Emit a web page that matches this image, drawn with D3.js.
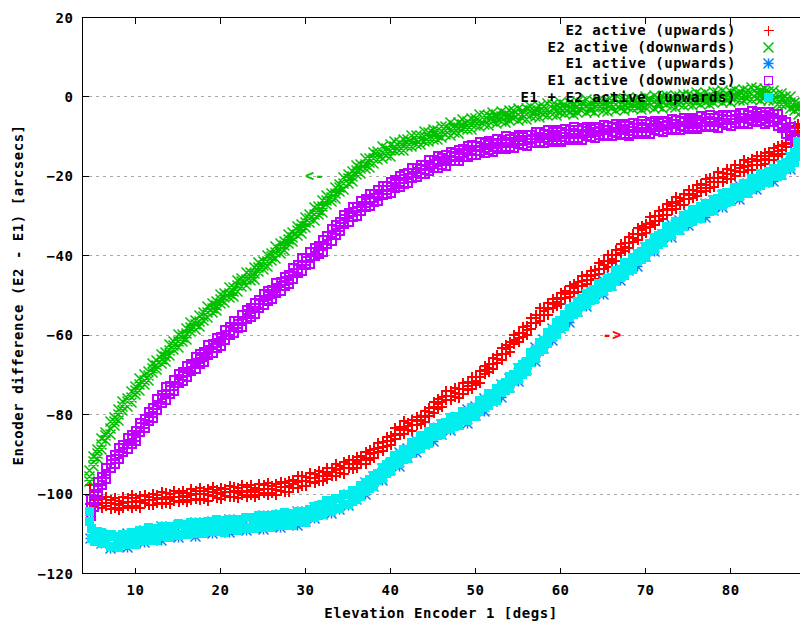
<!DOCTYPE html>
<html>
<head>
<meta charset="utf-8">
<script src="https://cdn.jsdelivr.net/npm/d3@7"></script>
<style>
html, body { margin: 0; padding: 0; background: #fff; }
svg { display: block; }
text { font-family: "DejaVu Sans Mono", "Liberation Mono", monospace; font-weight: bold; font-size: 14px; letter-spacing: 0.55px; fill: #000; }
</style>
</head>
<body>
<svg id="chart" width="800" height="621"></svg>
<script>
// Axis ticks and titles
const xTicks = [10, 20, 30, 40, 50, 60, 70, 80];
const yTicks = [20, 0, -20, -40, -60, -80, -100, -120];
const yGrid = [0, -20, -40, -60, -80, -100];
const xTitle = "Elevation Encoder 1 [degs]";
const yTitle = "Encoder difference (E2 - E1) [arcsecs]";

// Each row: [elevation deg, then the difference samples read at that elevation] in arcsecs
const e2Up = [[4.6,-97.6,-100.0,-102.4],[5,-99.3,-101.4,-103.1],[5.5,-100.3,-101.4,-102.7],[6,-101.1,-102.1,-103.5],[6.5,-100.6,-102.0,-103.0],[7,-101.3,-102.2,-103.6],[7.5,-100.9,-102.3,-103.3],[8,-101.5,-102.5,-103.8],[8.5,-100.6,-102.1,-103.3],[9,-100.9,-101.8,-102.9],[9.5,-100.2,-101.9,-103.3],[10,-100.9,-101.6,-102.8],[10.5,-100.4,-101.9,-103.3],[11,-100.0,-101.3,-102.2],[11.5,-100.5,-101.4,-102.6],[12,-99.9,-101.4,-102.7],[12.5,-100.1,-100.9,-102.0],[13,-99.4,-101.0,-102.3],[13.5,-99.6,-100.7,-102.0],[14,-99.9,-101.0,-102.3],[14.5,-99.1,-100.5,-101.5],[15,-99.5,-100.5,-101.8],[15.5,-99.0,-100.3,-101.4],[16,-99.6,-100.6,-101.9],[16.5,-98.7,-100.2,-101.4],[17,-99.0,-99.9,-101.0],[17.5,-98.3,-99.9,-101.4],[18,-99.1,-99.9,-101.0],[18.5,-98.6,-100.1,-101.5],[19,-98.2,-99.4,-100.4],[19.5,-98.8,-99.7,-100.9],[20,-98.3,-99.8,-101.1],[20.5,-98.5,-99.3,-100.4],[21,-97.8,-99.4,-100.7],[21.5,-98.1,-99.2,-100.5],[22,-98.4,-99.5,-100.8],[22.5,-97.7,-99.0,-100.1],[23,-98.2,-99.3,-100.5],[23.5,-97.7,-98.8,-100.1],[24,-98.3,-99.3,-100.6],[24.5,-97.4,-98.9,-100.1],[25,-97.7,-98.6,-99.7],[25.5,-97.0,-98.7,-100.1],[26,-97.8,-98.6,-99.7],[26.5,-97.3,-98.8,-100.2],[27,-96.9,-98.1,-99.1],[27.5,-97.2,-98.1,-99.3],[28,-96.5,-97.9,-99.3],[28.5,-96.4,-97.3,-98.3],[29,-95.4,-96.9,-98.3],[29.5,-95.4,-96.5,-97.8],[30,-95.5,-96.6,-97.9],[30.5,-94.5,-95.8,-96.9],[31,-94.8,-95.9,-97.1],[31.5,-94.1,-95.2,-96.5],[32,-94.4,-95.4,-96.7],[32.5,-93.3,-94.7,-96.0],[33,-93.3,-94.2,-95.3],[33.5,-92.3,-93.9,-95.4],[34,-92.7,-93.6,-94.6],[34.5,-91.9,-93.2,-94.8],[35,-91.2,-92.4,-93.4],[35.5,-91.4,-92.3,-93.5],[36,-90.5,-91.9,-93.3],[36.5,-90.4,-91.2,-92.3],[37,-89.4,-90.9,-92.3],[37.5,-88.8,-89.9,-91.2],[38,-88.4,-89.5,-90.8],[38.5,-86.9,-88.2,-89.3],[39,-86.8,-88.0,-89.1],[39.5,-85.4,-86.5,-87.8],[40,-85.2,-86.4,-87.5],[40.5,-83.3,-84.7,-86.0],[41,-82.9,-83.8,-84.9],[41.5,-81.6,-83.2,-84.7],[42,-81.9,-82.8,-83.8],[42.5,-81.1,-82.6,-84.0],[43,-80.4,-81.4,-82.6],[43.5,-80.1,-81.1,-82.2],[44,-78.9,-80.4,-81.7],[44.5,-78.2,-79.1,-80.1],[45,-76.6,-78.0,-79.5],[45.5,-76.0,-77.2,-78.4],[46,-75.5,-76.6,-77.9],[46.5,-73.9,-75.2,-76.3],[47,-74.0,-75.1,-76.3],[47.5,-73.1,-74.3,-75.5],[48,-73.5,-74.7,-75.8],[48.5,-72.0,-73.3,-74.7],[49,-71.7,-72.6,-73.7],[49.5,-70.3,-71.9,-73.4],[50,-70.4,-71.3,-72.3],[50.5,-68.9,-70.4,-71.8],[51,-67.5,-68.7,-69.7],[51.5,-67.1,-68.1,-69.2],[52,-65.7,-67.2,-68.5],[52.5,-64.9,-65.8,-66.8],[53,-63.2,-64.7,-66.1],[53.5,-62.3,-63.4,-64.7],[54,-61.6,-62.8,-64.0],[54.5,-59.8,-61.1,-62.2],[55,-59.4,-60.5,-61.7],[55.5,-57.9,-59.2,-60.3],[56,-57.5,-58.6,-59.8],[56.5,-55.5,-56.9,-58.2],[57,-54.7,-55.6,-56.7],[57.5,-53.1,-54.7,-56.2],[58,-53.0,-53.9,-54.9],[58.5,-51.8,-53.3,-54.7],[59,-50.7,-51.9,-52.9],[59.5,-50.4,-51.4,-52.5],[60,-49.2,-50.7,-52.0],[60.5,-48.7,-49.6,-50.6],[61,-47.4,-48.9,-50.3],[61.5,-46.9,-48.0,-49.3],[62,-46.5,-47.6,-48.9],[62.5,-45.0,-46.3,-47.4],[63,-44.8,-46.0,-47.1],[63.5,-43.6,-44.9,-46.0],[64,-43.5,-44.6,-45.8],[64.5,-41.8,-43.2,-44.5],[65,-41.3,-42.2,-43.3],[65.5,-39.7,-41.3,-42.8],[66,-39.7,-40.6,-41.6],[66.5,-38.3,-39.8,-41.2],[67,-37.0,-38.2,-39.2],[67.5,-36.6,-37.6,-38.7],[68,-35.2,-36.7,-38.0],[68.5,-34.5,-35.4,-36.4],[69,-32.9,-34.4,-35.8],[69.5,-32.3,-33.4,-34.7],[70,-31.8,-32.9,-34.2],[70.5,-30.2,-31.5,-32.6],[71,-29.9,-31.1,-32.2],[71.5,-28.6,-29.8,-31.0],[72,-28.4,-29.6,-30.7],[72.5,-26.8,-28.2,-29.5],[73,-26.4,-27.3,-28.4],[73.5,-25.0,-26.6,-28.1],[74,-25.2,-26.1,-27.1],[74.5,-24.2,-25.7,-27.1],[75,-23.3,-24.5,-25.5],[75.5,-23.2,-24.2,-25.3],[76,-22.1,-23.5,-24.9],[76.5,-21.8,-22.7,-23.7],[77,-20.6,-22.1,-23.5],[77.5,-20.3,-21.4,-22.7],[78,-20.2,-21.4,-22.6],[78.5,-18.9,-20.2,-21.3],[79,-19.0,-20.1,-21.3],[79.5,-18.1,-19.4,-20.5],[80,-18.3,-19.4,-20.6],[80.5,-17.0,-18.4,-19.7],[81,-16.9,-17.8,-18.9],[81.5,-15.8,-17.4,-18.9],[82,-16.3,-17.2,-18.2],[82.5,-15.4,-16.9,-18.3],[83,-14.7,-15.9,-16.9],[83.5,-14.8,-15.8,-16.9],[84,-14.0,-15.4,-16.8],[84.5,-13.8,-14.7,-15.7],[85,-12.8,-14.3,-15.7],[85.5,-12.3,-13.5,-14.7],[86,-11.9,-13.2,-14.3],[86.5,-10.1,-11.4,-12.5],[87,-9.5,-10.7,-11.8],[87.5,-7.1,-8.4,-9.5],[87.9,-6.8,-7.6,-8.6]];

const e2Down = [[4.6,-94.0,-95.5,-96.8],[5,-90.6,-91.9,-93.0],[5.5,-88.8,-89.8,-91.1],[6,-86.0,-87.5,-88.7],[6.5,-84.4,-85.3,-86.4],[7,-81.8,-83.4,-84.9],[7.5,-80.8,-81.8,-82.7],[8,-78.6,-80.0,-81.5],[8.5,-76.8,-78.0,-79.0],[9,-75.9,-76.8,-78.0],[9.5,-74.1,-75.6,-76.9],[10,-73.0,-73.9,-74.9],[10.5,-71.0,-72.5,-73.9],[11,-70.0,-71.3,-72.4],[11.5,-69.1,-70.2,-71.5],[12,-67.1,-68.4,-69.5],[12.5,-66.4,-67.6,-68.7],[13,-64.8,-66.1,-67.2],[13.5,-64.3,-65.3,-66.6],[14,-62.3,-63.8,-65.0],[14.5,-61.6,-62.5,-63.6],[15,-59.9,-61.6,-63.0],[15.5,-59.7,-60.6,-61.6],[16,-58.2,-59.5,-61.1],[16.5,-56.8,-58.0,-59.0],[17,-56.4,-57.3,-58.5],[17.5,-55.0,-56.5,-57.8],[18,-54.3,-55.2,-56.2],[18.5,-52.7,-54.2,-55.6],[19,-52.0,-53.3,-54.4],[19.5,-51.4,-52.5,-53.8],[20,-49.7,-51.0,-52.1],[20.5,-49.4,-50.5,-51.7],[21,-48.1,-49.4,-50.5],[21.5,-47.9,-48.9,-50.2],[22,-46.2,-47.6,-48.9],[22.5,-45.7,-46.6,-47.7],[23,-44.3,-45.9,-47.4],[23.5,-44.3,-45.2,-46.2],[24,-43.0,-44.5,-45.9],[24.5,-41.7,-42.9,-43.9],[25,-41.4,-42.4,-43.5],[25.5,-40.0,-41.5,-42.8],[26,-39.3,-40.1,-41.2],[26.5,-37.7,-39.2,-40.6],[27,-37.0,-38.3,-39.4],[27.5,-36.3,-37.4,-38.7],[28,-34.6,-35.9,-37.0],[28.5,-34.1,-35.3,-36.4],[29,-32.6,-33.7,-35.0],[29.5,-32.2,-33.2,-34.5],[30,-30.3,-31.7,-33.0],[30.5,-29.6,-30.5,-31.6],[31,-27.9,-29.5,-31.0],[31.5,-27.7,-28.6,-29.6],[32,-26.2,-27.7,-29.1],[32.5,-24.8,-26.0,-27.0],[33,-24.3,-25.3,-26.4],[33.5,-22.8,-24.3,-25.6],[34,-22.0,-22.9,-23.9],[34.5,-20.3,-21.8,-23.2],[35,-19.5,-20.6,-21.9],[35.5,-18.9,-20.0,-21.3],[36,-17.2,-18.5,-19.6],[36.5,-16.9,-18.0,-19.2],[37,-15.6,-16.9,-18.0],[37.5,-15.5,-16.5,-17.8],[38,-14.0,-15.4,-16.7],[38.5,-13.7,-14.6,-15.7],[39,-12.5,-14.1,-15.6],[39.5,-12.9,-13.8,-14.8],[40,-12.0,-13.4,-14.9],[40.5,-11.3,-12.5,-13.5],[41,-11.5,-12.5,-13.6],[41.5,-10.7,-12.2,-13.5],[42,-10.7,-11.6,-12.6],[42.5,-9.7,-11.2,-12.6],[43,-9.7,-10.8,-12.1],[43.5,-9.7,-10.8,-12.1],[44,-8.7,-9.9,-11.1],[44.5,-8.9,-10.1,-11.2],[45,-8.2,-9.3,-10.6],[45.5,-8.5,-9.6,-10.8],[46,-7.4,-8.8,-10.1],[46.5,-7.4,-8.4,-9.4],[47,-6.5,-8.1,-9.6],[47.5,-7.1,-8.0,-9.0],[48,-6.4,-7.8,-9.3],[48.5,-5.8,-6.9,-8.0],[49,-6.1,-7.1,-8.2],[49.5,-5.4,-6.9,-8.2],[50,-5.4,-6.3,-7.3],[50.5,-4.5,-6.0,-7.4],[51,-4.6,-5.8,-7.0],[51.5,-4.8,-5.9,-7.2],[52,-3.9,-5.1,-6.3],[52.5,-4.3,-5.5,-6.6],[53,-3.7,-4.9,-6.1],[53.5,-4.2,-5.3,-6.5],[54,-3.3,-4.7,-6.0],[54.5,-3.5,-4.4,-5.5],[55,-2.8,-4.4,-5.9],[55.5,-3.5,-4.4,-5.4],[56,-2.9,-4.3,-5.8],[56.5,-2.4,-3.5,-4.6],[57,-2.9,-3.9,-5.0],[57.5,-2.3,-3.7,-5.1],[58,-2.5,-3.4,-4.4],[58.5,-1.7,-3.1,-4.6],[59,-1.9,-3.0,-4.3],[59.5,-2.2,-3.4,-4.6],[60,-1.4,-2.6,-3.8],[60.5,-1.9,-3.0,-4.2],[61,-1.4,-2.6,-3.8],[61.5,-2.0,-3.2,-4.3],[62,-1.1,-2.5,-3.8],[62.5,-1.4,-2.4,-3.4],[63,-0.7,-2.2,-3.8],[63.5,-1.6,-2.5,-3.5],[64,-1.1,-2.6,-4.0],[64.5,-0.8,-1.9,-3.0],[65,-1.3,-2.3,-3.4],[65.5,-0.8,-2.2,-3.6],[66,-1.0,-1.9,-2.9],[66.5,-0.4,-1.8,-3.3],[67,-0.6,-1.8,-3.0],[67.5,-1.0,-2.2,-3.4],[68,-0.2,-1.4,-2.6],[68.5,-0.7,-1.9,-3.0],[69,-0.2,-1.4,-2.6],[69.5,-0.9,-2.1,-3.2],[70,0.0,-1.3,-2.7],[70.5,-0.4,-1.4,-2.4],[71,0.3,-1.2,-2.8],[71.5,-0.5,-1.5,-2.4],[72,0.0,-1.4,-2.9],[72.5,0.4,-0.7,-1.9],[73,-0.2,-1.2,-2.3],[73.5,0.3,-1.1,-2.6],[74,0.0,-0.9,-1.9],[74.5,0.7,-0.7,-2.2],[75,0.5,-0.6,-1.9],[75.5,0.2,-1.0,-2.2],[76,1.0,-0.2,-1.4],[76.5,0.5,-0.6,-1.8],[77,1.0,-0.2,-1.4],[77.5,0.4,-0.7,-1.9],[78,1.3,-0.1,-1.4],[78.5,1.0,0.0,-1.0],[79,1.7,0.2,-1.4],[79.5,0.9,-0.1,-1.0],[80,1.4,-0.1,-1.5],[80.5,1.8,0.7,-0.4],[81,1.3,0.3,-0.8],[81.5,1.8,0.4,-1.0],[82,1.6,0.6,-0.3],[82.5,2.3,0.8,-0.7],[83,2.0,0.8,-0.4],[83.5,1.6,0.4,-0.9],[84,2.2,1.0,-0.2],[84.5,1.4,0.3,-0.9],[85,1.6,0.4,-0.8],[85.5,0.5,-0.7,-1.8],[86,0.9,-0.4,-1.8],[86.5,0.0,-1.0,-2.0],[87,0.1,-1.4,-3.0],[87.5,-1.4,-2.3,-3.3],[88,-1.6,-3.0,-4.5]];

const e1Up = [[4.7,-105.0,-111.2],[6,-110.1,-112.4],[7,-110.5,-113.6],[8,-111.4,-113.1],[9,-110.0,-113.5],[10,-110.1,-112.4],[11,-109.2,-112.3],[12,-109.4,-111.1],[13,-108.2,-111.7],[14,-108.5,-110.8],[15,-107.8,-110.9],[16,-108.2,-109.9],[17,-107.1,-110.6],[18,-107.5,-109.8],[19,-106.9,-110.0],[20,-107.4,-109.1],[21,-106.3,-109.8],[22,-106.7,-109.0],[23,-106.1,-109.2],[24,-106.6,-108.3],[25,-105.5,-109.0],[26,-105.9,-108.2],[27,-105.2,-108.3],[28,-105.6,-107.3],[29,-104.5,-108.0],[30,-104.7,-107.0],[31,-103.4,-106.2],[32,-102.9,-105.2],[33,-101.8,-104.9],[34,-101.3,-103.8],[35,-100.1,-103.0],[36,-99.4,-101.4],[37,-97.0,-100.0],[38,-95.7,-98.0],[39,-93.5,-96.6],[40,-92.2,-93.9],[41,-89.6,-93.1],[42,-88.5,-90.8],[43,-86.5,-89.6],[44,-85.7,-87.4],[45,-83.3,-86.8],[46,-82.6,-84.9],[47,-81.0,-84.1],[48,-80.7,-82.4],[49,-78.8,-82.3],[50,-77.9,-80.2],[51,-76.0,-79.1],[52,-75.0,-76.7],[53,-72.3,-75.8],[54,-70.9,-73.2],[55,-68.5,-71.6],[56,-67.0,-68.7],[57,-63.0,-66.5],[58,-61.1,-63.4],[59,-58.3,-61.4],[60,-56.6,-58.3],[61,-53.3,-56.8],[62,-51.8,-54.1],[63,-49.7,-52.8],[64,-48.8,-50.5],[65,-46.3,-49.8],[66,-45.3,-47.6],[67,-43.2,-46.3],[68,-42.0,-43.7],[69,-39.3,-42.8],[70,-38.0,-40.3],[71,-35.7,-38.8],[72,-34.6,-36.3],[73,-32.0,-35.5],[74,-31.1,-33.4],[75,-29.3,-32.4],[76,-28.8,-30.5],[77,-26.8,-30.3],[78,-26.2,-28.5],[79,-24.7,-27.8],[80,-24.3,-26.0],[81,-22.3,-25.8],[82,-21.8,-24.1],[83,-20.3,-23.4],[84,-19.9,-21.6],[85,-17.9,-21.4],[86,-17.3,-19.6],[87,-15.2,-18.3],[88,-12.9,-14.6]];

const e1Down = [[4.7,-101.0,-103.2,-105.5],[5,-99.8,-101.6,-103.2],[5.5,-96.8,-98.4,-99.9],[6,-95.7,-96.6,-97.6],[6.5,-93.3,-94.8,-96.2],[7,-91.2,-92.3,-93.4],[7.5,-90.1,-91.1,-92.2],[8,-88.3,-89.8,-91.1],[8.5,-87.4,-88.3,-89.3],[9,-85.7,-87.2,-88.6],[9.5,-84.9,-86.0,-87.3],[10,-84.1,-85.4,-86.5],[10.5,-81.9,-83.0,-84.3],[11,-81.0,-82.2,-83.3],[11.5,-79.1,-80.4,-81.5],[12,-78.3,-79.5,-80.6],[12.5,-76.0,-77.4,-78.7],[13,-74.9,-75.8,-76.9],[13.5,-73.0,-74.6,-76.1],[14,-72.7,-73.6,-74.6],[14.5,-71.1,-72.6,-74.0],[15,-69.7,-70.8,-71.9],[15.5,-69.2,-70.2,-71.3],[16,-67.7,-69.1,-70.5],[16.5,-67.0,-67.9,-68.9],[17,-65.4,-66.9,-68.3],[17.5,-64.7,-65.8,-67.1],[18,-64.1,-65.3,-66.5],[18.5,-62.4,-63.5,-64.8],[19,-62.0,-63.2,-64.3],[19.5,-60.6,-61.9,-63.0],[20,-60.3,-61.4,-62.6],[20.5,-58.5,-59.9,-61.2],[21,-57.9,-58.8,-59.9],[21.5,-56.3,-57.9,-59.4],[22,-56.2,-57.1,-58.1],[22.5,-54.8,-56.3,-57.7],[23,-53.5,-54.6,-55.7],[23.5,-53.1,-54.1,-55.2],[24,-51.7,-53.1,-54.5],[24.5,-51.0,-51.9,-52.9],[25,-49.4,-50.9,-52.3],[25.5,-48.8,-50.0,-51.2],[26,-48.4,-49.6,-50.8],[26.5,-46.8,-48.0,-49.2],[27,-46.5,-47.6,-48.8],[27.5,-45.1,-46.3,-47.5],[28,-44.8,-45.9,-47.1],[28.5,-42.9,-44.3,-45.6],[29,-42.2,-43.1,-44.2],[29.5,-40.5,-42.1,-43.6],[30,-40.4,-41.3,-42.3],[30.5,-39.0,-40.5,-41.9],[31,-37.8,-38.9,-40.0],[31.5,-37.4,-38.4,-39.5],[32,-36.0,-37.4,-38.8],[32.5,-35.0,-35.9,-36.9],[33,-33.2,-34.7,-36.1],[33.5,-32.2,-33.4,-34.6],[34,-31.3,-32.5,-33.7],[34.5,-29.5,-30.7,-31.9],[35,-29.0,-30.2,-31.3],[35.5,-27.7,-28.9,-30.1],[36,-27.6,-28.7,-29.9],[36.5,-26.0,-27.4,-28.7],[37,-25.7,-26.6,-27.7],[37.5,-24.3,-25.9,-27.4],[38,-24.4,-25.3,-26.3],[38.5,-23.3,-24.8,-26.2],[39,-22.3,-23.4,-24.5],[39.5,-22.2,-23.2,-24.3],[40,-21.2,-22.6,-24.0],[40.5,-20.9,-21.8,-22.8],[41,-19.7,-21.2,-22.6],[41.5,-19.3,-20.5,-21.7],[42,-19.1,-20.3,-21.5],[42.5,-17.8,-19.0,-20.2],[43,-17.8,-18.9,-20.1],[43.5,-16.9,-18.1,-19.3],[44,-17.1,-18.2,-19.4],[44.5,-15.8,-17.2,-18.5],[45,-15.8,-16.8,-17.8],[45.5,-14.7,-16.3,-17.8],[46,-15.2,-16.1,-17.1],[46.5,-14.4,-15.8,-17.3],[47,-13.7,-14.8,-15.9],[47.5,-13.9,-14.9,-16.0],[48,-13.2,-14.6,-16.0],[48.5,-13.1,-14.0,-15.0],[49,-12.2,-13.6,-15.1],[49.5,-12.1,-13.3,-14.5],[50,-12.2,-13.4,-14.6],[50.5,-11.2,-12.4,-13.6],[51,-11.6,-12.7,-13.9],[51.5,-10.9,-12.1,-13.3],[52,-11.4,-12.5,-13.7],[52.5,-10.4,-11.7,-13.1],[53,-10.6,-11.6,-12.6],[53.5,-9.8,-11.3,-12.9],[54,-10.5,-11.4,-12.4],[54.5,-9.9,-11.3,-12.8],[55,-9.5,-10.6,-11.7],[55.5,-9.9,-11.0,-12.0],[56,-9.4,-10.8,-12.2],[56.5,-9.5,-10.5,-11.4],[57,-8.7,-10.1,-11.6],[57.5,-8.8,-10.0,-11.2],[58,-9.1,-10.3,-11.5],[58.5,-8.3,-9.5,-10.7],[59,-8.8,-9.9,-11.1],[59.5,-8.2,-9.4,-10.6],[60,-8.8,-10.0,-11.1],[60.5,-7.9,-9.2,-10.6],[61,-8.2,-9.2,-10.2],[61.5,-7.5,-9.0,-10.6],[62,-8.3,-9.2,-10.2],[62.5,-7.8,-9.2,-10.7],[63,-7.4,-8.5,-9.6],[63.5,-7.9,-8.9,-10.0],[64,-7.4,-8.8,-10.2],[64.5,-7.6,-8.5,-9.5],[65,-6.9,-8.3,-9.8],[65.5,-7.1,-8.3,-9.5],[66,-7.4,-8.6,-9.8],[66.5,-6.6,-7.8,-9.0],[67,-7.2,-8.3,-9.5],[67.5,-6.7,-7.9,-9.1],[68,-7.3,-8.4,-9.6],[68.5,-6.4,-7.8,-9.1],[69,-6.7,-7.7,-8.7],[69.5,-6.0,-7.5,-9.1],[70,-6.8,-7.7,-8.7],[70.5,-6.3,-7.7,-9.2],[71,-5.9,-7.0,-8.1],[71.5,-6.4,-7.4,-8.5],[72,-5.9,-7.3,-8.7],[72.5,-6.1,-7.0,-8.0],[73,-5.4,-6.8,-8.3],[73.5,-5.6,-6.8,-8.0],[74,-5.9,-7.1,-8.3],[74.5,-5.1,-6.3,-7.5],[75,-5.6,-6.7,-7.9],[75.5,-5.1,-6.3,-7.5],[76,-5.7,-6.8,-8.0],[76.5,-4.8,-6.1,-7.5],[77,-5.1,-6.1,-7.1],[77.5,-4.4,-5.9,-7.5],[78,-5.2,-6.1,-7.1],[78.5,-4.7,-6.1,-7.6],[79,-4.3,-5.4,-6.5],[79.5,-4.8,-5.8,-6.9],[80,-4.3,-5.7,-7.1],[80.5,-4.5,-5.4,-6.4],[81,-3.8,-5.2,-6.7],[81.5,-4.0,-5.2,-6.4],[82,-4.3,-5.5,-6.7],[82.5,-3.5,-4.7,-5.9],[83,-4.0,-5.1,-6.3],[83.5,-3.6,-4.8,-6.0],[84,-4.3,-5.4,-6.6],[84.5,-3.6,-5.0,-6.3],[85,-4.2,-5.2,-6.2],[85.5,-4.1,-5.6,-7.2],[86,-5.7,-6.6,-7.6],[86.5,-6.3,-7.7,-9.2],[87,-7.5,-8.6,-9.7],[87.5,-10.1,-11.1,-12.2],[88,-11.2,-12.6,-14.0]];

const e12Up = [[4.6,-104.4,-107.0],[4.8,-108.6,-111.2],[5.2,-109.5,-112.0],[5.5,-109.4,-111.5],[6,-109.7,-112.5],[6.5,-110.5,-112.4],[7,-110.2,-113.1],[7.5,-110.7,-113.1],[8,-111.1,-113.5],[8.5,-110.2,-112.6],[9,-110.5,-112.8],[9.5,-109.8,-112.2],[10,-110.3,-112.6],[10.5,-109.2,-111.9],[11,-109.4,-111.4],[11.5,-108.5,-111.6],[12,-109.2,-111.1],[12.5,-108.7,-111.6],[13,-108.2,-110.4],[13.5,-108.7,-110.8],[14,-108.1,-110.9],[14.5,-108.3,-110.2],[15,-107.5,-110.4],[15.5,-107.7,-110.1],[16,-107.9,-110.3],[16.5,-107.1,-109.5],[17,-107.6,-109.9],[17.5,-107.1,-109.5],[18,-107.7,-110.0],[18.5,-106.8,-109.5],[19,-107.1,-109.1],[19.5,-106.4,-109.5],[20,-107.2,-109.1],[20.5,-106.7,-109.6],[21,-106.3,-108.5],[21.5,-106.8,-108.9],[22,-106.3,-109.1],[22.5,-106.5,-108.4],[23,-105.8,-108.7],[23.5,-106.0,-108.4],[24,-106.3,-108.7],[24.5,-105.5,-107.9],[25,-106.0,-108.3],[25.5,-105.5,-107.9],[26,-106.1,-108.4],[26.5,-105.2,-107.9],[27,-105.4,-107.4],[27.5,-104.7,-107.8],[28,-105.4,-107.3],[28.5,-104.9,-107.8],[29,-104.5,-106.7],[29.5,-104.9,-107.0],[30,-104.3,-107.1],[30.5,-103.9,-106.0],[31,-103.2,-105.9],[31.5,-102.9,-105.4],[32,-102.7,-105.1],[32.5,-101.7,-104.1],[33,-102.0,-104.3],[33.5,-101.1,-103.6],[34,-101.2,-103.6],[34.5,-100.1,-102.7],[35,-100.2,-102.5],[35.5,-99.1,-101.8],[36,-99.0,-101.3],[36.5,-97.8,-100.5],[37,-97.2,-99.4],[37.5,-96.4,-98.5],[38,-95.3,-98.1],[38.5,-94.7,-96.6],[39,-93.2,-96.1],[39.5,-92.5,-94.9],[40,-91.9,-94.3],[40.5,-90.3,-92.7],[41,-90.1,-92.4],[41.5,-88.8,-91.2],[42,-88.7,-91.0],[42.5,-87.1,-89.8],[43,-86.7,-88.7],[43.5,-85.3,-88.4],[44,-85.5,-87.4],[44.5,-84.3,-87.2],[45,-83.3,-85.5],[45.5,-83.2,-85.3],[46,-82.2,-85.0],[46.5,-81.9,-83.8],[47,-80.7,-83.6],[47.5,-80.5,-82.9],[48,-80.4,-82.8],[48.5,-79.2,-81.6],[49,-79.3,-81.6],[49.5,-78.1,-80.5],[50,-78.1,-80.4],[50.5,-76.5,-79.2],[51,-76.2,-78.2],[51.5,-74.7,-77.8],[52,-74.8,-76.7],[52.5,-73.5,-76.4],[53,-72.3,-74.5],[53.5,-71.9,-74.0],[54,-70.5,-73.3],[54.5,-69.8,-71.7],[55,-68.2,-71.1],[55.5,-67.4,-69.8],[56,-66.7,-69.1],[56.5,-64.4,-66.8],[57,-63.5,-65.8],[57.5,-61.8,-64.2],[58,-61.3,-63.6],[58.5,-59.3,-62.0],[59,-58.5,-60.5],[59.5,-56.7,-59.8],[60,-56.4,-58.3],[60.5,-54.8,-57.7],[61,-53.3,-55.5],[61.5,-52.8,-54.9],[62,-51.4,-54.2],[62.5,-50.8,-52.7],[63,-49.4,-52.3],[63.5,-48.9,-51.3],[64,-48.5,-50.9],[64.5,-47.0,-49.4],[65,-46.8,-49.1],[65.5,-45.6,-48.0],[66,-45.5,-47.8],[66.5,-43.8,-46.5],[67,-43.4,-45.4],[67.5,-41.8,-44.9],[68,-41.8,-43.7],[68.5,-40.5,-43.4],[69,-39.3,-41.5],[69.5,-38.9,-41.0],[70,-37.6,-40.4],[70.5,-36.9,-38.8],[71,-35.4,-38.3],[71.5,-34.8,-37.2],[72,-34.3,-36.7],[72.5,-32.7,-35.1],[73,-32.5,-34.8],[73.5,-31.3,-33.7],[74,-31.3,-33.6],[74.5,-29.8,-32.5],[75,-29.5,-31.5],[75.5,-28.3,-31.4],[76,-28.6,-30.5],[76.5,-27.6,-30.5],[77,-26.8,-29.0],[77.5,-26.8,-28.9],[78,-25.8,-28.6],[78.5,-25.5,-27.4],[79,-24.4,-27.3],[79.5,-24.1,-26.5],[80,-24.0,-26.4],[80.5,-22.7,-25.1],[81,-22.8,-25.1],[81.5,-21.8,-24.2],[82,-22.0,-24.3],[82.5,-20.6,-23.3],[83,-20.5,-22.5],[83.5,-19.3,-22.4],[84,-19.7,-21.6],[84.5,-18.7,-21.6],[85,-17.9,-20.1],[85.5,-17.9,-20.0],[86,-16.9,-19.7],[86.5,-16.4,-18.3],[87,-14.9,-17.8],[87.5,-14.0,-16.4],[87.9,-11.2,-13.5],[88,-12.6,-15.0]];

// Series in drawing order, with their key labels
const seriesLabels = ["E2 active (upwards)", "E2 active (downwards)", "E1 active (upwards)", "E1 active (downwards)", "E1 + E2 active (upwards)"];
const seriesData = [e2Up, e2Down, e1Up, e1Down, e12Up];

// Direction annotations: [text, elevation, difference]
const arrowNotes = [["<-", 30, -20], ["->", 65, -60]];

// ---- styles ----
const seriesStyle = [
  { color: "#ff0000", marker: "plus",    width: 2,   size: 5 },
  { color: "#00c000", marker: "cross",   width: 1.6, size: 5 },
  { color: "#0080ff", marker: "star",    width: 1.5, size: 5 },
  { color: "#c000ff", marker: "box",     width: 2,   size: 4 },
  { color: "#00eeee", marker: "boxfill", width: 1,   size: 4 }
];
const noteColors = ["#00c000", "#ff0000"];

const svg = d3.select("#chart");
const plot = { left: 82, right: 800, top: 17, bottom: 573 };

const x = d3.scaleLinear().domain([3.76, 88.1]).range([plot.left, 799]);
const y = d3.scaleLinear().domain([-120, 20]).range([plot.bottom, plot.top]);

svg.append("rect").attr("width", 800).attr("height", 621).attr("fill", "#fff");

svg.append("defs").append("clipPath").attr("id", "plotClip")
  .append("rect")
  .attr("x", plot.left).attr("y", plot.top)
  .attr("width", plot.right - plot.left).attr("height", plot.bottom - plot.top);

// horizontal grid
svg.append("g").selectAll("line").data(yGrid).join("line")
  .attr("x1", plot.left).attr("x2", plot.right)
  .attr("y1", d => Math.round(y(d)) + 0.5).attr("y2", d => Math.round(y(d)) + 0.5)
  .attr("stroke", "#a8a8a8").attr("stroke-width", 1)
  .attr("stroke-dasharray", "3,4")
  .attr("shape-rendering", "crispEdges");

function markerPath(kind, px, py, r) {
  const cx = Math.round(px) + 0.5, cy = Math.round(py) + 0.5;
  const plus = `M${cx - r},${cy}H${cx + r}M${cx},${cy - r}V${cy + r}`;
  const cross = `M${cx - r},${cy - r}L${cx + r},${cy + r}M${cx - r},${cy + r}L${cx + r},${cy - r}`;
  const box = `M${cx - r},${cy - r}H${cx + r}V${cy + r}H${cx - r}Z`;
  if (kind === "plus") return plus;
  if (kind === "cross") return cross;
  if (kind === "star") return plus + cross;
  return box;
}
const rendering = k => (k === "cross" || k === "star") ? "auto" : "crispEdges";

const dataLayer = svg.append("g").attr("clip-path", "url(#plotClip)");

seriesData.forEach((rows, i) => {
  const st = seriesStyle[i];
  const pts = rows.flatMap(r => r.slice(1).map(v => [r[0], v]));
  const d = pts.map(p => markerPath(st.marker, x(p[0]), y(p[1]), st.size)).join("");
  dataLayer.append("path")
    .attr("d", d)
    .attr("fill", st.marker === "boxfill" ? st.color : "none")
    .attr("stroke", st.color)
    .attr("stroke-width", st.width)
    .attr("shape-rendering", rendering(st.marker));
});

// axes (ticks point inwards)
const yAxis = d3.axisLeft(y).tickValues(yTicks).tickSize(-6).tickSizeOuter(0).tickPadding(9).tickFormat(d3.format("d"));
const yG = svg.append("g").attr("transform", `translate(${plot.left + 0.5},0)`).call(yAxis);
const xAxis = d3.axisBottom(x).tickValues(xTicks).tickSize(-6).tickSizeOuter(0).tickPadding(12).tickFormat(d3.format("d"));
const xG = svg.append("g").attr("transform", `translate(0,${plot.bottom + 0.5})`).call(xAxis);
const xTopG = svg.append("g").attr("transform", `translate(0,${plot.top + 0.5})`)
  .call(d3.axisTop(x).tickValues(xTicks).tickSize(-6).tickSizeOuter(0).tickFormat(""));
[yG, xG, xTopG].forEach(g => {
  g.attr("font-family", null).attr("font-size", null);
  g.select(".domain").remove();
  g.selectAll(".tick line").attr("stroke", "#000").attr("shape-rendering", "crispEdges");
});
yG.selectAll(".tick text").attr("dy", "0.36em");

// border
svg.append("rect")
  .attr("x", plot.left + 0.5).attr("y", plot.top + 0.5)
  .attr("width", plot.right - plot.left).attr("height", plot.bottom - plot.top)
  .attr("fill", "none").attr("stroke", "#000").attr("stroke-width", 1)
  .attr("shape-rendering", "crispEdges");

// axis titles
svg.append("text").attr("x", (plot.left + plot.right) / 2).attr("y", 618)
  .attr("text-anchor", "middle").text(xTitle);
svg.append("text")
  .attr("transform", `translate(23,${(plot.top + plot.bottom) / 2}) rotate(-90)`)
  .attr("text-anchor", "middle").text(yTitle);

// direction notes
svg.append("g").selectAll("text").data(arrowNotes).join("text")
  .attr("x", d => x(d[1])).attr("y", d => y(d[2]) + 5)
  .style("fill", (d, i) => noteColors[i])
  .style("font-size", "15px")
  .text(d => d[0]);

// key
const key = svg.append("g");
seriesLabels.forEach((label, i) => {
  const cy = 30 + i * 16.7;
  key.append("text").attr("x", 736).attr("y", cy + 5)
    .attr("text-anchor", "end").text(label);
  const st = seriesStyle[i];
  key.append("path")
    .attr("d", markerPath(st.marker, 768, cy, st.size))
    .attr("fill", st.marker === "boxfill" ? st.color : "none")
    .attr("stroke", st.color)
    .attr("stroke-width", Math.min(st.width, 1.5))
    .attr("shape-rendering", rendering(st.marker));
});
</script>
</body>
</html>
